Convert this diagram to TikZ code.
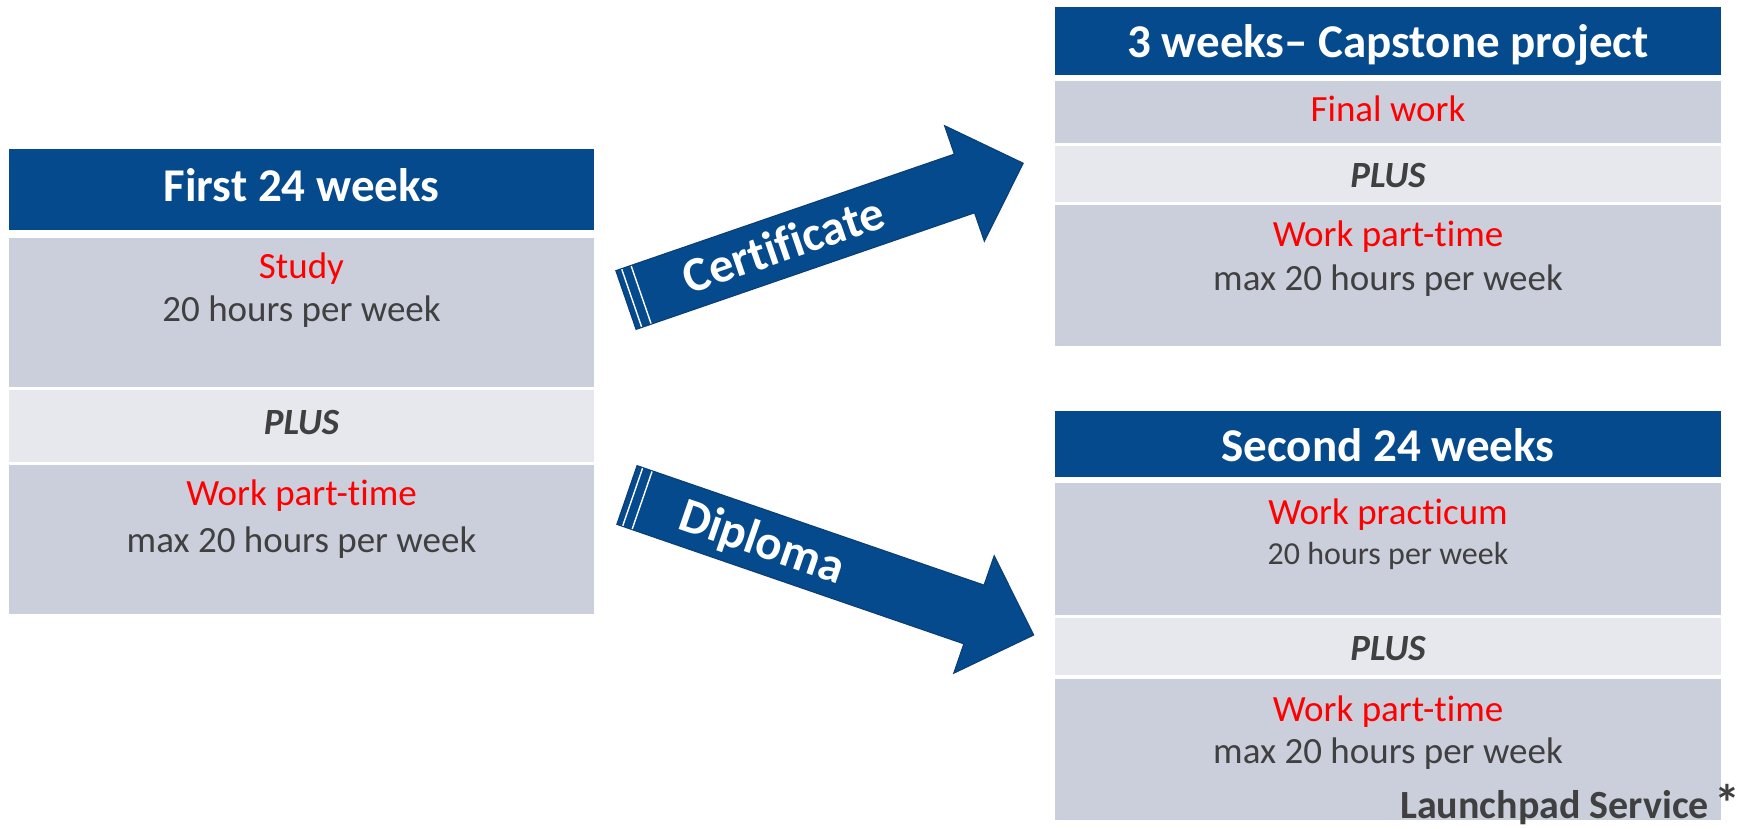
\documentclass[tikz,border=0pt]{standalone}
\usepackage{fontspec}
\setmainfont{Carlito}[Ligatures={NoCommon,NoRequired,NoContextual}]
\definecolor{hdrblue}{HTML}{054A8C}
\definecolor{arrline}{HTML}{0A3F78}
\definecolor{boxgray}{HTML}{CBCFDC}
\definecolor{plusgray}{HTML}{E7E8EE}
\definecolor{txtdark}{HTML}{404040}
\definecolor{txtred}{HTML}{FF0000}
\newcommand{\fsz}[1]{\fontsize{#1}{#1}\selectfont}
\newcommand{\nl}{\kern0pt}
\tikzset{
  hdr/.style={fill=hdrblue},
  gbox/.style={fill=boxgray},
  pbox/.style={fill=plusgray},
  hdrtxt/.style={anchor=base, text=white, font=\fsz{47}\bfseries, inner sep=0pt},
  redtxt/.style={anchor=base, text=txtred, font=\fsz{37}, inner sep=0pt},
  drktxt/.style={anchor=base, text=txtdark, font=\fsz{37}, inner sep=0pt},
  smalltxt/.style={anchor=base, text=txtdark, font=\fsz{32}, inner sep=0pt},
  plustxt/.style={anchor=base, text=txtdark, font=\fsz{37}\bfseries\itshape, inner sep=0pt},
  arrbody/.style={fill=hdrblue, draw=arrline, line width=1.2pt, line join=miter},
  arrtxt/.style={anchor=base, text=white, font=\fsz{49}\bfseries, inner sep=0pt, transform shape},
  stripe/.style={draw=white, line width=1.4pt}
}
\begin{document}
\begin{tikzpicture}[x=1pt,y=-1pt]
\useasboundingbox (0,0) rectangle (1750,828);

% ---------- left column ----------
\path[hdr]   (9,149) rectangle (594,230);
\path[gbox]  (9,238) rectangle (594,387);
\path[pbox]  (9,390) rectangle (594,462);
\path[gbox]  (9,465) rectangle (594,614);
\node[hdrtxt] (l1) at (301.5,201) {First 24 weeks};
\node[redtxt] (l2) at (301.5,278) {Study};
\node[drktxt] (l3) at (301.5,321) {20 hours per week};
\node[plustxt] (l4) at (301.5,434) {PLUS};
\node[redtxt] (l5) at (301.5,505) {Work part-t\nl ime};
\node[drktxt] (l6) at (301.5,552) {max 20 hours per week};

% ---------- right top ----------
\path[hdr]   (1055,7) rectangle (1721,75);
\path[gbox]  (1055,81) rectangle (1721,143);
\path[pbox]  (1055,146) rectangle (1721,202);
\path[gbox]  (1055,205) rectangle (1721,346);
\node[hdrtxt] (t1) at (1388,57) {3 weeks– Capstone project};
\node[redtxt] (t2) at (1388,121) {Final work};
\node[plustxt] (t3) at (1388,187) {PLUS};
\node[redtxt] (t4) at (1388,246) {Work part-t\nl ime};
\node[drktxt] (t5) at (1388,290) {max 20 hours per week};

% ---------- right bottom ----------
\path[hdr]   (1055,411) rectangle (1721,477);
\path[gbox]  (1055,483) rectangle (1721,615);
\path[pbox]  (1055,618) rectangle (1721,675);
\path[gbox]  (1055,679) rectangle (1721,820);
\node[hdrtxt] (b1) at (1388,461) {Second 24 weeks};
\node[redtxt] (b2) at (1388,524) {Work practicum};
\node[smalltxt] (b3) at (1388,564) {20 hours per week};
\node[plustxt] (b4) at (1388,660) {PLUS};
\node[redtxt] (b5) at (1388,721) {Work part-t\nl ime};
\node[drktxt] (b6) at (1388,763) {max 20 hours per week};
\node[anchor=base east, text=txtdark, font=\fsz{40}\bfseries, inner sep=0pt] (lp) at (1741,818) {Launchpad Service\kern6pt\raisebox{-3pt}{\fsz{52}*}};

% ---------- Certificate arrow ----------
\begin{scope}[shift={(626,300)}, rotate=19]
  \path[arrbody] (0,-31) -- (358,-31) -- (358,-61) -- (420,0) -- (358,61) -- (358,31) -- (0,31) -- cycle;
  \draw[stripe] (6,-30.4) -- (6,30.4);
  \draw[stripe] (16,-30.4) -- (16,30.4);
  \node[arrtxt] (cert) at (167,15.5) {Certif\nl icate};
\end{scope}

% ---------- Diploma arrow ----------
\begin{scope}[shift={(627,495)}, rotate=-19]
  \path[arrbody] (0,-31) -- (367,-31) -- (367,-62) -- (430,0) -- (367,62) -- (367,31) -- (0,31) -- cycle;
  \draw[stripe] (6,-30.4) -- (6,30.4);
  \draw[stripe] (16,-30.4) -- (16,30.4);
  \node[arrtxt] (dipl) at (143,15.5) {Diploma};
\end{scope}
\end{tikzpicture}
\end{document}
